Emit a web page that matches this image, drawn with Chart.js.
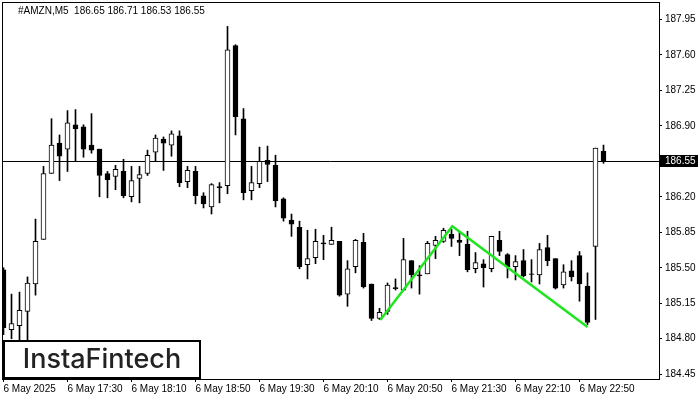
<!DOCTYPE html>
<html>
<head>
<meta charset="utf-8">
<script src="https://cdn.jsdelivr.net/npm/chart.js@4"></script>
<style>
  html, body { margin: 0; padding: 0; background: #fff; }
  canvas { display: block; }
</style>
</head>
<body>
<canvas id="c" width="700" height="400"></canvas>
<script>
// AMZN M5 candles, 6 May 2025
const symbol = "#AMZN,M5"
const opens  = [185.48,184.89,184.93,185.07,185.34,185.78,186.43,186.73,186.67,186.91,186.89,186.71,186.67,186.43,186.40,186.45,186.20,186.38,186.43,186.64,186.77,186.71,186.80,186.35,186.45,186.21,186.10,186.30,186.31,187.69,186.97,186.26,186.33,186.56,186.51,186.18,185.97,185.90,185.53,185.60,185.745,185.73,185.76,185.24,185.51,185.75,185.34,185.00,185.07,185.305,185.28,185.57,185.43,185.44,185.72,185.76,185.83,185.77,185.73,185.49,185.54,185.49,185.77,185.63,185.51,185.57,185.44,185.43,185.70,185.59,185.33,185.47,185.62,185.32,185.71,186.65]
const highs  = [185.50,185.24,185.26,185.41,185.98,186.50,186.97,186.81,187.05,187.06,186.91,187.02,186.67,186.45,186.51,186.57,186.50,186.50,186.66,186.81,186.79,186.85,186.85,186.50,186.50,186.24,186.33,186.34,187.88,187.70,187.07,186.50,186.69,186.70,186.61,186.19,186.03,185.96,185.87,185.88,185.82,185.90,185.76,185.57,185.78,185.84,185.34,185.10,185.35,185.39,185.79,185.57,185.52,185.76,185.81,185.89,185.88,185.86,185.86,185.65,185.58,185.81,185.86,185.64,185.62,185.68,185.58,185.74,185.82,185.59,185.53,185.57,185.66,185.45,186.68,186.71]
const lows   = [184.84,184.80,184.79,184.78,185.23,185.78,186.43,186.36,186.45,186.55,186.59,186.63,186.20,186.19,186.27,186.19,186.15,186.14,186.41,186.55,186.46,186.60,186.30,186.29,186.13,186.09,186.03,186.14,186.23,186.81,186.17,186.17,186.29,186.35,186.10,185.96,185.81,185.49,185.39,185.54,185.58,185.73,185.22,185.12,185.45,185.30,184.98,184.99,185.04,185.28,185.28,185.30,185.24,185.44,185.59,185.75,185.71,185.62,185.46,185.45,185.31,185.46,185.62,185.40,185.38,185.41,185.36,185.34,185.52,185.29,185.30,185.37,185.17,184.94,184.99,186.53]
const closes = [184.91,184.95,185.08,185.35,185.76,186.43,186.71,186.60,186.93,186.87,186.67,186.66,186.41,186.37,186.47,186.21,186.36,186.42,186.61,186.78,186.73,186.82,186.34,186.46,186.21,186.13,186.32,186.29,187.65,186.99,186.24,186.34,186.55,186.52,186.16,185.99,185.93,185.51,185.59,185.76,185.735,185.77,185.23,185.49,185.77,185.31,185.00,185.06,185.33,185.295,185.58,185.43,185.42,185.74,185.77,185.87,185.79,185.75,185.48,185.55,185.50,185.81,185.66,185.51,185.56,185.42,185.435,185.68,185.57,185.30,185.46,185.41,185.34,184.96,186.68,186.55]

// x tick every 8 bars (40 min)
const xTickIdx    = [0, 8, 16, 24, 32, 40, 48, 56, 64, 72]
const xTickLabels = ["6 May 2025", "6 May 17:30", "6 May 18:10", "6 May 18:50", "6 May 19:30",
                     "6 May 20:10", "6 May 20:50", "6 May 21:30", "6 May 22:10", "6 May 22:50"]
const yTicks = [184.45, 184.80, 185.15, 185.50, 185.85, 186.20, 186.55, 186.90, 187.25, 187.60, 187.95]

// double top pattern line (bar index, price)
const patternX = [47.1, 56.1, 73]
const patternY = [184.985, 185.91, 184.916]

const bidPrice = closes[closes.length - 1]

const FONT = "'Liberation Sans', Arial, sans-serif"

const wickData = lows.map((l, i) => ({ x: i, y: [l, highs[i]] }))
const bodyData = opens.map((o, i) => ({ x: i, y: [o, closes[i]] }))
const patternData = patternX.map((x, i) => ({ x: x, y: patternY[i] }))

// drop the label overhang padding chart.js adds, so the plot fills the frame
const noPad = (s) => { s.paddingTop = 0; s.paddingBottom = 0; s.paddingLeft = 0; s.paddingRight = 0 }

const chromePlugin = {
  id: "chrome",
  beforeDraw(chart) {
    const ctx = chart.ctx
    ctx.save()
    ctx.fillStyle = "#fff"
    ctx.fillRect(0, 0, chart.width, chart.height)
    ctx.restore()
  },
  beforeDatasetsDraw(chart) {
    // bid line sits under the candles
    const ctx = chart.ctx
    const a = chart.chartArea
    const y = Math.round(chart.scales.y.getPixelForValue(bidPrice)) + 0.5
    ctx.save()
    ctx.strokeStyle = "#000"
    ctx.lineWidth = 1
    ctx.beginPath()
    ctx.moveTo(a.left, y)
    ctx.lineTo(a.right, y)
    ctx.stroke()
    ctx.restore()
  },
  afterDraw(chart) {
    const ctx = chart.ctx
    const a = chart.chartArea
    ctx.save()

    // frame
    ctx.strokeStyle = "#000"
    ctx.lineWidth = 1
    ctx.strokeRect(a.left + 0.5, a.top + 0.5, a.right - a.left, a.bottom - a.top)

    // header text
    ctx.fillStyle = "#000"
    ctx.font = "10px " + FONT
    ctx.textBaseline = "middle"
    ctx.textAlign = "left"
    const last = opens.length - 1
    ctx.fillText(symbol + "  " + [opens[last], highs[last], lows[last], closes[last]].map(v => v.toFixed(2)).join(" "), 18, 11)

    // bid label on the price axis
    const by = Math.round(chart.scales.y.getPixelForValue(bidPrice))
    ctx.fillStyle = "#000"
    ctx.fillRect(a.right + 1, by - 6, 38, 12)
    ctx.fillStyle = "#fff"
    ctx.fillText(bidPrice.toFixed(2), a.right + 6, by + 0.5)

    // logo box
    ctx.fillStyle = "#fff"
    ctx.fillRect(3, 340, 198, 39)
    ctx.lineWidth = 2
    ctx.strokeStyle = "#000"
    ctx.strokeRect(4, 341, 196, 37)
    ctx.fillStyle = "#222"
    ctx.font = "500 27px Inter, 'Open Sans', sans-serif"
    ctx.textAlign = "center"
    ctx.fillText("InstaFintech", 102, 360)

    ctx.restore()
  }
}

new Chart(document.getElementById("c"), {
  data: {
    datasets: [
      {
        type: "line",
        data: patternData,
        borderColor: "rgb(30, 230, 30)",
        borderWidth: 2.5,
        pointRadius: 0,
        tension: 0,
        order: 0
      },
      {
        type: "bar",
        data: bodyData,
        backgroundColor: (c) => closes[c.dataIndex] > opens[c.dataIndex] ? "#fff" : "#000",
        borderColor: "#000",
        borderWidth: 1,
        borderSkipped: false,
        barThickness: 5,
        grouped: false,
        order: 1
      },
      {
        type: "bar",
        data: wickData,
        backgroundColor: "#000",
        borderWidth: 0,
        barThickness: 1,
        grouped: false,
        order: 2
      }
    ]
  },
  options: {
    responsive: false,
    animation: false,
    devicePixelRatio: 1,
    layout: { padding: { left: 2, top: 2, right: 0, bottom: 0 } },
    plugins: {
      legend: { display: false },
      tooltip: { enabled: false }
    },
    scales: {
      x: {
        type: "linear",
        position: "bottom",
        offset: false,
        min: -0.1875,
        max: 81.9375,
        afterBuildTicks: (s) => { s.ticks = xTickIdx.map(v => ({ value: v })) },
        afterFit: (s) => { s.height = 21; noPad(s) },
        grid: { display: true, offset: false, drawOnChartArea: false, drawTicks: true, tickLength: 3, color: "#000" },
        border: { display: false },
        ticks: {
          align: "start",
          autoSkip: false,
          maxRotation: 0,
          minRotation: 0,
          padding: 1,
          color: "#000",
          font: { family: FONT, size: 10 },
          callback: (v) => xTickLabels[xTickIdx.indexOf(v)]
        }
      },
      y: {
        position: "right",
        min: 184.403,
        max: 188.121,
        afterBuildTicks: (s) => { s.ticks = yTicks.map(v => ({ value: v })) },
        afterFit: (s) => { s.width = 41; noPad(s) },
        grid: { display: true, drawOnChartArea: false, drawTicks: true, tickLength: 3, color: "#000" },
        border: { display: false },
        ticks: {
          padding: 3,
          color: "#000",
          font: { family: FONT, size: 10 },
          callback: (v) => v.toFixed(2)
        }
      }
    }
  },
  plugins: [chromePlugin]
})
</script>
</body>
</html>
